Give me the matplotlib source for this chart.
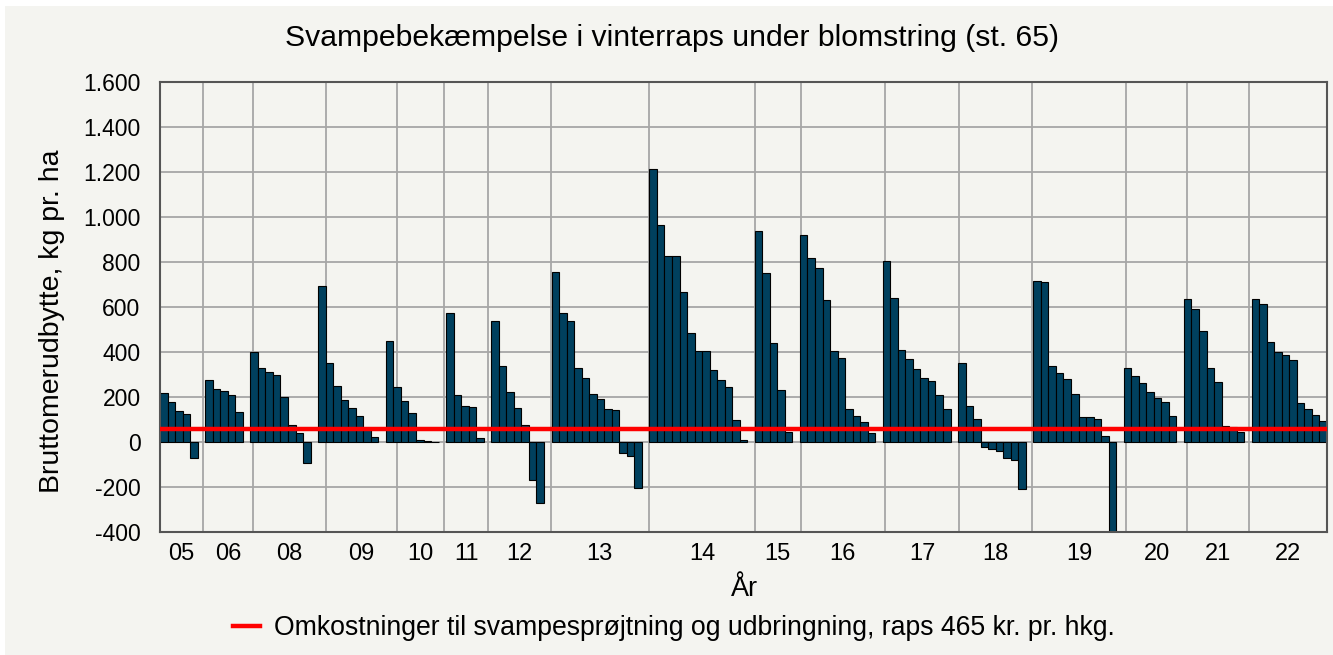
import numpy as np
import matplotlib.pyplot as plt
from matplotlib.patches import Rectangle

plt.rcParams['font.family'] = ['Liberation Sans', 'DejaVu Sans']

# Bruttomerudbytte (kg pr. ha) per forsøgsbehandling, grupperet efter år
years = ['05', '06', '08', '09', '10', '11', '12', '13', '14',
         '15', '16', '17', '18', '19', '20', '21', '22']
y05 = [219, 178, 136, 124, -71]
y06 = [274, 234, 225, 207, 135]
y08 = [398, 329, 310, 299, 200, 76, 39, -93]
y09 = [692, 351, 249, 188, 153, 117, 58, 22]
y10 = [449, 244, 184, 127, 10, 4, 1]
y11 = [575, 207, 158, 154, 19]
y12 = [538, 338, 222, 150, 74, -167, -271]
y13 = [754, 572, 538, 329, 286, 212, 193, 147, 141, -47, -62, -203]
y14 = [1215, 966, 828, 825, 667, 484, 403, 403, 320, 274, 243, 99, 10]
y15 = [939, 753, 441, 229, 45]
y16 = [919, 816, 773, 633, 403, 375, 145, 116, 89, 41]
y17 = [803, 640, 407, 367, 323, 283, 271, 210, 145]
y18 = [351, 159, 102, -21, -30, -39, -70, -79, -207]
y19 = [716, 713, 338, 308, 279, 212, 111, 111, 104, 25, -430]
y20 = [327, 293, 264, 221, 194, 176, 116]
y21 = [637, 591, 492, 327, 267, 70, 68, 43]
y22 = [637, 613, 444, 400, 388, 364, 175, 147, 120, 93]
gain_by_year = [y05, y06, y08, y09, y10, y11, y12, y13, y14,
                y15, y16, y17, y18, y19, y20, y21, y22]

cost_level = 57  # omkostninger omregnet til kg pr. ha

# layout: where the year dividers sit (in bar slots)
dividers = [5.67, 12.40, 22.00, 31.43, 37.72, 43.61, 51.89, 64.95, 79.03,
            85.09, 96.31, 106.17, 115.86, 128.35, 136.36, 144.68]

# bar positions: one slot per bar, one empty slot between years
xs, vals = [], []
slot = 0
for i, grp in enumerate(gain_by_year):
    for v in grp:
        xs.append(slot + 0.5)
        vals.append(v)
        slot += 1
    if i < len(gain_by_year) - 1:
        slot += 1
n_slots = slot

bg = '#f4f4f0'
fig = plt.figure(figsize=(13.33, 6.55), dpi=100, facecolor=bg)
fig.patches.append(Rectangle((0, 1 - 6 / 655), 1, 6 / 655, transform=fig.transFigure,
                             facecolor='white', edgecolor='none', zorder=0))
fig.patches.append(Rectangle((0, 0), 5 / 1333, 1, transform=fig.transFigure,
                             facecolor='white', edgecolor='none', zorder=0))

ax = fig.add_axes([160 / 1333, 1 - 532 / 655, 1167 / 1333, 450 / 655])
ax.set_facecolor(bg)

ax.bar(xs, vals, width=1.0, color='#00405e', edgecolor='black', linewidth=0.8, zorder=2)
ax.axhline(cost_level, color='#ff0000', linewidth=3.2, zorder=3,
           label='Omkostninger til svampesprøjtning og udbringning, raps 465 kr. pr. hkg.')

ax.set_xlim(0, n_slots)
ax.set_ylim(-400, 1600)

# grid
yt = np.arange(-400, 1601, 200)
ax.set_yticks(yt)
ax.set_yticklabels([f"{v:,}".replace(',', '.') for v in yt])
ax.yaxis.grid(True, color='#a6a6a6', linewidth=1.3, zorder=0)
for d in dividers:
    ax.axvline(d, color='#a6a6a6', linewidth=1.3, zorder=0.5)
ax.set_axisbelow(True)

# year labels centred between dividers
edges = [0] + dividers + [n_slots]
centres = [(edges[i] + edges[i + 1]) / 2 for i in range(len(years))]
ax.set_xticks(centres)
ax.set_xticklabels(years)

ax.tick_params(axis='y', length=0, labelsize=16.5, colors='black', pad=14)
ax.tick_params(axis='x', length=0, labelsize=17, colors='black', pad=8)

for s in ax.spines.values():
    s.set_color('#555555')
    s.set_linewidth(1.5)

fig.text(672 / 1333, 1 - 38 / 655, 'Svampebekæmpelse i vinterraps under blomstring (st. 65)',
         ha='center', va='center', fontsize=21.7)
fig.text(745 / 1333, 1 - 589 / 655, 'År', ha='center', va='center', fontsize=19.5)
fig.text(52 / 1333, 1 - 321 / 655, 'Bruttomerudbytte, kg pr. ha', ha='center', va='center',
         rotation=90, fontsize=20.5)

fig.legend(loc='center', bbox_to_anchor=(674 / 1333, 1 - 628 / 655), frameon=False,
           fontsize=19.2, handlelength=1.0, handletextpad=0.55)

plt.savefig('out.png', dpi=100, facecolor=bg)
